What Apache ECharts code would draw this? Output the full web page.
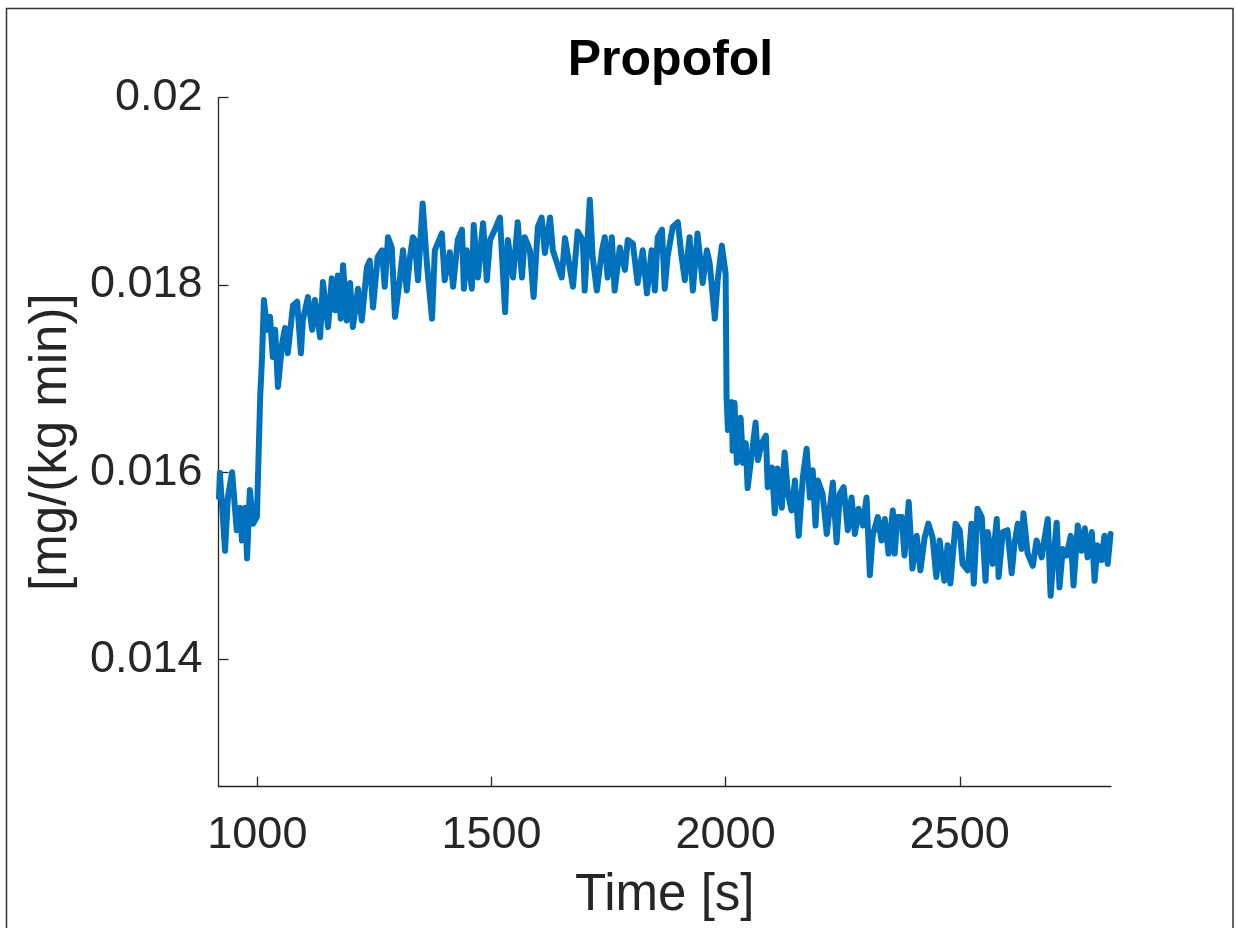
<!DOCTYPE html>
<html>
<head>
<meta charset="utf-8">
<script src="https://cdn.jsdelivr.net/npm/echarts@6/dist/echarts.min.js"></script>
<style>
html,body{margin:0;padding:0;background:#fff;}
#chart{width:1237px;height:928px;}
</style>
</head>
<body>
<div id="chart"></div>
<script>
const titleText = 'Propofol';
const xName = 'Time [s]';
const yName = '[mg/(kg min)]';
const xTicks = [1000, 1500, 2000, 2500];
const xTickLabels = ['1000', '1500', '2000', '2500'];
const yTicks = [0.014, 0.016, 0.018, 0.02];
const yTickLabels = ['0.014', '0.016', '0.018', '0.02'];
const xRange = [917, 2823];
const yRange = [0.01264, 0.02];

// time [s]
const timeValues = [
  918, 920, 931, 937, 946, 956, 963, 967, 974, 978, 984, 991, 999, 1006, 1010, 1014, 1021, 1027, 1033, 1038,
  1044, 1053, 1059, 1065, 1076, 1085, 1093, 1097, 1108, 1117, 1123, 1134, 1140, 1151, 1159, 1166, 1172, 1178, 1183, 1191,
  1198, 1204, 1215, 1223, 1234, 1240, 1247, 1257, 1266, 1272, 1279, 1287, 1294, 1304, 1311, 1319, 1326, 1332,
  1336, 1343, 1353, 1362, 1373, 1379, 1394, 1400, 1411, 1418, 1428, 1437, 1441, 1447, 1458, 1462, 1471, 1482, 1490, 1497,
  1507, 1518, 1529, 1535, 1546, 1556, 1565, 1571, 1582, 1590, 1599, 1607, 1614, 1625, 1631, 1640, 1650, 1657, 1667, 1674,
  1684, 1695, 1699, 1710, 1716, 1725, 1736, 1742, 1748, 1757, 1763, 1774, 1785, 1791, 1802, 1812, 1823, 1832, 1842, 1849,
  1855, 1864, 1870, 1876, 1887, 1898, 1906, 1913, 1923, 1930, 1940, 1951, 1960, 1966, 1977, 1983, 1992, 2000,
  2002, 2005, 2013, 2015, 2019, 2024, 2032, 2037, 2043, 2047, 2056, 2064, 2069, 2077, 2086, 2090, 2099, 2105, 2111, 2120,
  2126, 2133, 2141, 2148, 2156, 2165, 2173, 2180, 2186, 2192, 2197, 2207, 2216, 2229, 2237, 2244, 2252, 2261, 2269, 2276,
  2284, 2293, 2301, 2308, 2314, 2325, 2333, 2340,
  2348, 2357, 2361, 2367, 2376, 2382, 2391, 2399, 2408, 2416, 2425, 2433, 2442, 2450, 2457, 2467, 2474, 2480, 2491, 2500,
  2506, 2517, 2525, 2530, 2538, 2547, 2555, 2560, 2570, 2579, 2583, 2592, 2602, 2611, 2617, 2624, 2632, 2636, 2645, 2656,
  2664, 2675, 2681, 2688, 2694, 2699, 2707, 2713, 2720, 2728, 2737, 2743, 2752, 2760, 2767, 2773, 2782, 2788, 2794, 2803,
  2809, 2816, 2822
];

// propofol rate [mg/(kg min)]
const rateValues = [
  0.01573, 0.01599, 0.01516, 0.01573, 0.01600, 0.01538, 0.01562, 0.01527, 0.01562, 0.01508, 0.01581, 0.01545, 0.01552, 0.01680, 0.01723, 0.01784, 0.01752, 0.01766, 0.01723, 0.01752,
  0.01691, 0.01738, 0.01754, 0.01727, 0.01778, 0.01782, 0.01727, 0.01762, 0.01787, 0.01752, 0.01784, 0.01744, 0.01803, 0.01755, 0.01807, 0.01773, 0.01810, 0.01764, 0.01821, 0.01762,
  0.01802, 0.01755, 0.01796, 0.01762, 0.01819, 0.01826, 0.01776, 0.01830, 0.01837, 0.01798, 0.01851, 0.01840, 0.01766, 0.01805, 0.01837, 0.01794, 0.01830, 0.01851,
  0.01848, 0.01805, 0.01887, 0.01823, 0.01764, 0.01837, 0.01855, 0.01805, 0.01835, 0.01798, 0.01848, 0.01859, 0.01796, 0.01837, 0.01796, 0.01864, 0.01808, 0.01866, 0.01805, 0.01848,
  0.01859, 0.01872, 0.01771, 0.01848, 0.01808, 0.01867, 0.01808, 0.01851, 0.01837, 0.01787, 0.01862, 0.01872, 0.01834, 0.01872, 0.01837, 0.01823, 0.01808, 0.01850, 0.01819, 0.01798,
  0.01857, 0.01848, 0.01794, 0.01891, 0.01830, 0.01794, 0.01837, 0.01851, 0.01808, 0.01851, 0.01794, 0.01840, 0.01816, 0.01848, 0.01844, 0.01802, 0.01837, 0.01791, 0.01837, 0.01794,
  0.01851, 0.01859, 0.01796, 0.01830, 0.01862, 0.01867, 0.01830, 0.01805, 0.01851, 0.01794, 0.01855, 0.01802, 0.01837, 0.01823, 0.01764, 0.01805, 0.01842, 0.01812,
  0.01680, 0.01645, 0.01675, 0.01623, 0.01674, 0.01610, 0.01658, 0.01610, 0.01631, 0.01583, 0.01620, 0.01653, 0.01613, 0.01631, 0.01639, 0.01584, 0.01605, 0.01556, 0.01604, 0.01562,
  0.01621, 0.01577, 0.01559, 0.01591, 0.01532, 0.01595, 0.01625, 0.01573, 0.01602, 0.01543, 0.01591, 0.01577, 0.01534, 0.01589, 0.01525, 0.01577, 0.01584, 0.01538, 0.01573, 0.01534,
  0.01561, 0.01543, 0.01573, 0.01490, 0.01532, 0.01552, 0.01527, 0.01550,
  0.01513, 0.01559, 0.01513, 0.01552, 0.01552, 0.01511, 0.01568, 0.01497, 0.01532, 0.01495, 0.01530, 0.01545, 0.01530, 0.01488, 0.01527, 0.01484, 0.01522, 0.01481, 0.01545, 0.01538,
  0.01502, 0.01495, 0.01545, 0.01481, 0.01561, 0.01552, 0.01484, 0.01536, 0.01502, 0.01550, 0.01488, 0.01536, 0.01538, 0.01492, 0.01524, 0.01545, 0.01518, 0.01556, 0.01513, 0.01500,
  0.01527, 0.01509, 0.01529, 0.01550, 0.01468, 0.01502, 0.01546, 0.01477, 0.01518, 0.01511, 0.01532, 0.01479, 0.01543, 0.01516, 0.01540, 0.01509, 0.01536, 0.01484, 0.01522, 0.01506,
  0.01532, 0.01502, 0.01534
];

const seriesData = timeValues.map((t, i) => [t, rateValues[i]]);
const FONT = '"Liberation Sans", Arial, Helvetica, sans-serif';
const AX = '#262626';

const chart = echarts.init(document.getElementById('chart'), null, {renderer: 'canvas'});
chart.setOption({
  animation: false,
  backgroundColor: '#ffffff',
  title: {
    text: titleText,
    left: 665.5, top: 31, textAlign: 'center',
    textStyle: {fontFamily: FONT, fontSize: 50, fontWeight: 'bold', color: '#000'}
  },
  grid: {left: 218.5, right: 126, top: 97.7, bottom: 141.3, containLabel: false, outerBoundsMode: 'none'},
  xAxis: {
    type: 'value', min: xRange[0], max: xRange[1],
    name: xName, nameLocation: 'middle', nameGap: 84,
    nameTextStyle: {fontFamily: FONT, fontSize: 51, color: AX},
    axisLine: {show: true, onZero: false, lineStyle: {color: AX, width: 1.3}},
    axisTick: {show: true, inside: true, length: 10, customValues: xTicks, lineStyle: {color: AX, width: 1.3}},
    axisLabel: {show: true, customValues: xTicks, margin: 26, fontFamily: FONT, fontSize: 45, color: AX,
      formatter: v => xTickLabels[xTicks.indexOf(v)] ?? ''},
    splitLine: {show: false}
  },
  yAxis: {
    type: 'value', min: yRange[0], max: yRange[1],
    name: yName, nameLocation: 'middle', nameGap: 141, nameRotate: 90,
    nameTextStyle: {fontFamily: FONT, fontSize: 51, color: AX},
    axisLine: {show: true, onZero: false, lineStyle: {color: AX, width: 1.3}},
    axisTick: {show: true, inside: true, length: 10, customValues: yTicks, lineStyle: {color: AX, width: 1.3}},
    axisLabel: {show: true, customValues: yTicks, margin: 16, fontFamily: FONT, fontSize: 45, color: AX,
      formatter: v => {
        let k = yTicks.findIndex(t => Math.abs(t - v) < 1e-9);
        return k >= 0 ? yTickLabels[k] : '';
      }},
    splitLine: {show: false}
  },
  graphic: [{
    type: 'rect', silent: true, z: 100,
    shape: {x: 6.5, y: 8.5, width: 1226.5, height: 940},
    style: {fill: 'none', stroke: '#333333', lineWidth: 1.5}
  }],
  series: [{
    type: 'line', data: seriesData, showSymbol: false, symbol: 'none',
    lineStyle: {color: '#0072BD', width: 6, cap: 'round', join: 'round'},
    clip: true
  }]
});
</script>
</body>
</html>
